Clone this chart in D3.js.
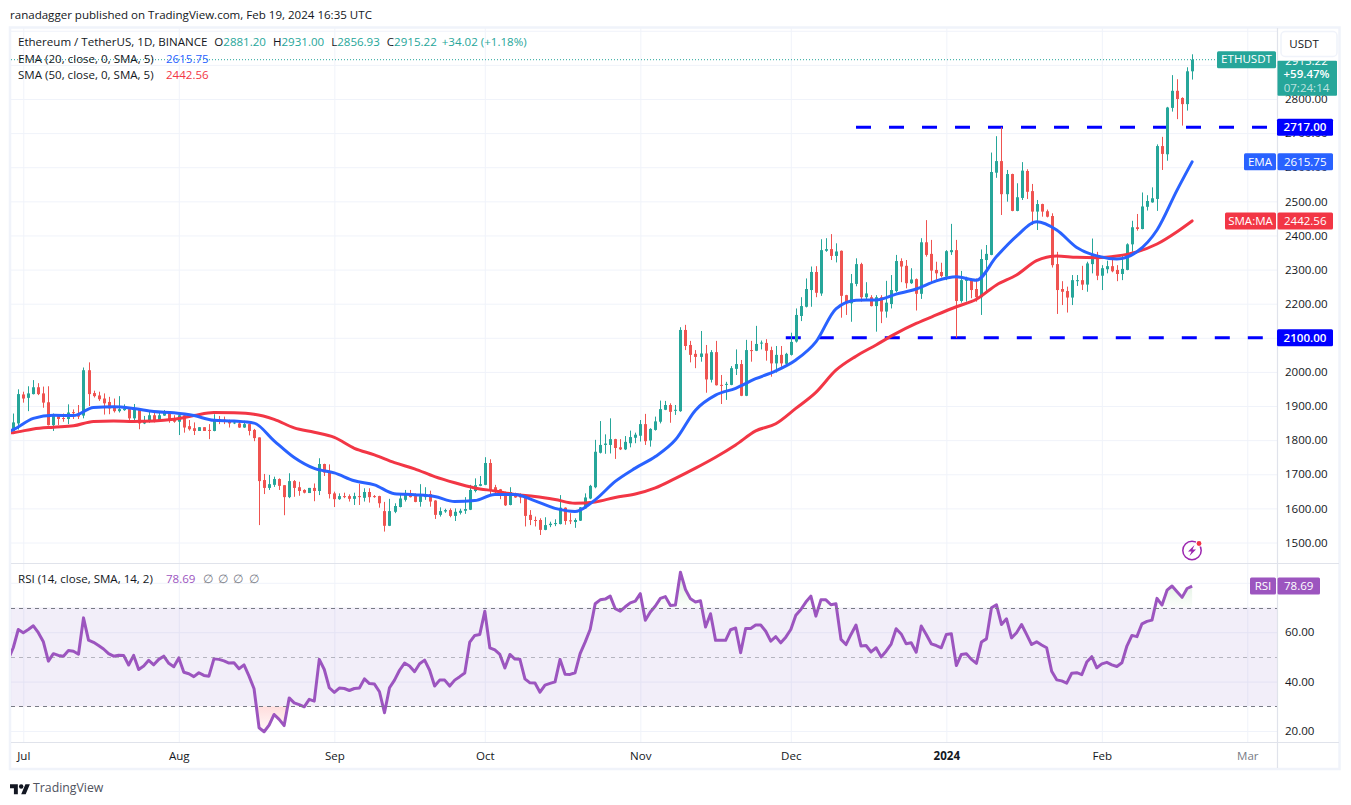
<!DOCTYPE html>
<html><head><meta charset="utf-8">
<script src="https://cdn.jsdelivr.net/npm/d3@7"></script>
<style>html,body{margin:0;padding:0;background:#fff}svg{display:block}text{font-family:"Open Sans",sans-serif;font-size:11.55px;fill:#131722}</style>
</head><body><svg id="c" width="1351" height="805"></svg>
<script>
const opens=[1827,1849,1934,1924,1935,1955,1937,1911,1844,1872,1865,1862,1882,1878,1872,2005,1938,1931,1922,1912,1898,1885,1888,1891,1864,1888,1849,1854,1873,1859,1872,1883,1862,1854,1873,1841,1835,1827,1838,1830,1827,1861,1860,1856,1849,1849,1837,1847,1830,1808,1683,1660,1669,1686,1668,1633,1680,1662,1654,1645,1660,1651,1730,1707,1644,
1627,1636,1636,1628,1636,1631,1648,1636,1636,1592,1549,1590,1604,1625,1644,1636,1619,1633,1642,1623,1581,1591,1595,1578,1587,1593,1596,1651,1666,1669,1733,1662,1656,1648,1610,1644,1641,1638,1581,1566,1566,1537,1551,1554,1554,1602,1565,1560,1564,1600,1629,1662,1763,1786,1786,1803,1779,1773,1791,1807,1813,1847,1799,1830,1854,1889,1903,1887,
1885,2123,2079,2053,2044,2054,1977,2058,1962,1962,1962,2009,2023,1930,2064,2062,2083,2085,2064,2025,2050,2024,2050,2089,2164,2191,2240,2293,2230,2355,2360,2340,2355,2225,2201,2258,2316,2219,2219,2193,2219,2177,2199,2237,2325,2311,2260,2272,2229,2380,2346,2299,2293,2279,2351,
2357,2208,2267,2271,2243,2219,2328,2343,2584,2618,2521,2580,2472,2510,2589,2530,2470,2492,2471,2457,2316,2243,2237,2218,2266,2269,2256,2316,2343,2282,2301,2310,2299,2287,2299,2374,2424,2419,2484,2497,2507,2662,2638,2774,2824,2803,2785,2881.2];
const closes=[1852,1935,1922,1937,1955,1935,1910,1844,1873,1862,1862,1881,1879,1869,2005,1935,1929,1920,1908,1893,1885,1891,1893,1864,1891,1849,1859,1873,1857,1873,1883,1857,1854,1873,1837,1832,1827,1838,1827,1828,1861,1857,1856,1849,1852,1837,1847,1827,1806,1680,1660,1671,1686,1666,1633,1680,1660,1651,1646,1660,1651,1730,1705,1642,1627,
1636,1633,1628,1636,1635,1648,1633,1635,1615,1549,1592,1607,1629,1644,1633,1619,1636,1642,1620,1581,1592,1595,1578,1590,1593,1598,1654,1668,1671,1733,1652,1652,1639,1609,1648,1632,1632,1578,1566,1564,1537,1551,1555,1557,1602,1563,1562,1566,1603,1632,1666,1766,1786,1790,1803,1777,1773,1795,1809,1816,1847,1797,1833,1855,1891,1903,1883,1889,
2123,2076,2050,2044,2054,1978,2058,1961,1960,1965,2011,2023,1930,2064,2062,2082,2086,2062,2025,2050,2025,2053,2088,2167,2193,2243,2293,2232,2357,2360,2340,2353,2223,2201,2260,2316,2219,2230,2193,2219,2177,2203,2240,2325,2309,2260,2271,2229,2380,2343,2297,2289,2281,2354,2357,
2208,2269,2274,2240,2219,2331,2346,2586,2618,2521,2580,2472,2512,2590,2528,2470,2492,2470,2455,2313,2240,2235,2218,2269,2269,2256,2318,2346,2282,2304,2310,2295,2287,2302,2374,2424,2419,2485,2501,2509,2662,2639,2775,2824,2800,2785,2881.2,2915.22];
const highs=[1878,1949,1942,1958,1976,1967,1957,1958,1878,1875,1878,1905,1890,1903,2013,2028,1945,1942,1937,1927,1922,1929,1905,1896,1906,1890,1871,1885,1885,1885,1888,1884,1873,1878,1878,1859,1852,1838,1838,1847,1876,1871,1869,1860,1856,1857,1857,1848,1833,1808,1701,1698,1693,1688,1668,1703,1683,1678,1656,1660,1673,1747,1731,1729,1649,
1644,1646,1641,1646,1672,1659,1659,1639,1637,1619,1628,1615,1644,1654,1654,1644,1671,1662,1652,1624,1603,1599,1600,1600,1599,1633,1669,1688,1695,1750,1744,1669,1657,1649,1662,1646,1644,1641,1595,1576,1571,1574,1561,1568,1639,1603,1586,1571,1604,1644,1669,1801,1856,1817,1864,1804,1803,1812,1828,1822,1859,1877,1835,1869,1916,1915,1908,1903,
2131,2138,2091,2064,2120,2079,2064,2091,1991,1971,2017,2066,2035,2094,2091,2135,2092,2096,2074,2076,2076,2056,2115,2186,2219,2274,2309,2310,2389,2392,2404,2377,2356,2226,2287,2333,2320,2263,2225,2225,2225,2267,2284,2343,2333,2328,2304,2274,2392,2445,2387,2323,2320,2357,2434,
2387,2296,2279,2274,2274,2359,2372,2643,2691,2717,2592,2581,2553,2615,2594,2551,2504,2493,2476,2465,2352,2266,2250,2284,2284,2311,2323,2391,2352,2313,2326,2331,2313,2343,2377,2443,2463,2526,2518,2541,2667,2689,2777,2870,2858,2805,2893,2931];
const lows=[1825,1831,1910,1885,1934,1932,1895,1843,1827,1844,1854,1847,1862,1862,1864,1900,1925,1915,1875,1876,1881,1881,1886,1854,1856,1832,1847,1851,1852,1854,1871,1851,1851,1815,1822,1828,1815,1827,1827,1803,1826,1847,1847,1837,1847,1836,1836,1814,1797,1551,1642,1654,1663,1654,1580,1630,1634,1637,1644,1645,1621,1639,1695,1629,1604,
1625,1630,1620,1610,1610,1620,1617,1631,1602,1532,1548,1586,1603,1620,1632,1618,1605,1625,1605,1569,1576,1587,1574,1563,1582,1584,1595,1647,1665,1668,1639,1639,1627,1607,1609,1631,1615,1547,1551,1547,1522,1536,1545,1548,1553,1552,1554,1543,1563,1599,1627,1659,1761,1760,1761,1745,1771,1771,1779,1791,1796,1786,1781,1828,1849,1888,1851,1874,
1883,2064,2028,2011,2030,1939,1969,1960,1906,1918,1961,1991,1929,1929,2030,2061,2066,2033,1986,1998,2015,2020,2048,2086,2149,2189,2191,2219,2223,2352,2328,2321,2159,2167,2147,2251,2206,2211,2192,2118,2143,2159,2186,2233,2263,2245,2258,2180,2214,2338,2260,2270,2277,2269,2343,
2100,2203,2206,2216,2206,2167,2230,2342,2569,2460,2499,2471,2471,2504,2507,2431,2416,2455,2453,2306,2170,2196,2174,2196,2252,2240,2235,2289,2269,2240,2289,2292,2266,2269,2298,2352,2414,2418,2473,2496,2472,2592,2619,2763,2741,2722,2766,2856.93];
const lineDays=[-1,0,4,8,12,16,20,24,28,32,36,40,44,48,52,56,60,64,68,72,76,80,84,88,92,96,100,104,108,112,116,120,124,128,132,136,140,144,148,152,156,160,164,168,172,176,180,184,188,192,196,200,204,208,212,216,220,224,228,232,235];
const ema=[1825,1831,1864,1873,1872,1896,1898,1893,1884,1880,1872,1858,1856,1850,1798,1749,1717,1704,1681,1669,1643,1640,1635,1620,1623,1641,1641,1622,1600,1591,1625,1679,1718,1752,1801,1888,1932,1952,1980,2003,2035,2088,2185,2210,2211,2228,2243,2267,2279,2269,2338,2398,2440,2416,2365,2340,2331,2352,2416,2533,2615.75];
const sma=[1821,1822,1833,1838,1842,1855,1856,1855,1856,1861,1872,1881,1880,1876,1861,1836,1823,1808,1776,1757,1734,1716,1693,1675,1660,1651,1641,1635,1626,1615,1619,1632,1642,1660,1688,1718,1750,1786,1827,1848,1893,1940,2005,2046,2079,2113,2142,2167,2191,2213,2255,2284,2326,2340,2336,2335,2340,2352,2375,2411,2442.56];
const rsi=[49,53.7,61.1,59.8,61.1,62.6,59.8,56.1,48.3,51.3,50.6,50.3,52.6,52.3,51.1,65.8,56.8,55.9,54.6,53.2,51.3,50.3,50.7,50.6,46.7,50.6,44.9,46.3,48.6,46.8,49.0,50.3,47.4,46.0,49.6,43.8,43.2,42.0,43.6,42.5,42.2,49.2,49.0,48.4,47.5,47.6,45.2,46.8,42.2,37.1,21.3,19.7,22.4,26.7,24.7,22.2,33.4,31.4,30.7,29.8,32.8,32.1,49.0,44.9,37.5,35.6,37.4,37.2,36.4,37.2,37.4,41.1,39.2,39.0,35.9,27.4,37.5,40.6,44.6,47.5,46.3,44.0,47.2,48.7,44.6,38.2,40.6,40.6,38.2,
40.6,42.0,43.5,56.0,58.7,59.1,68.5,53.7,52.8,51.0,45.5,51.0,49.1,49.0,41.1,39.5,39.4,35.7,38.6,39.3,39.9,49.0,43.0,42.9,43.6,51.3,56.0,61.1,71.5,73.1,73.4,74.6,69.5,68.5,70.3,71.9,72.6,75.6,64.8,68.2,70.6,73.7,74.4,70.8,71.0,84.3,77.3,73.5,72.2,72.7,62.1,67.5,56.7,56.7,56.7,61.0,61.7,51.7,61.5,61.5,62.9,62.9,60.4,56.4,58.2,55.7,58.0,61.1,66.9,69.2,72.2,74.6,66.5,73.1,73.1,71.1,71.5,57.1,55.0,59.1,62.9,54.4,54.6,52.0,53.7,50.0,52.3,55.2,61.4,
59.3,55.3,55.7,51.9,62.5,59.1,55.3,54.6,53.7,59.1,59.4,46.5,51.0,51.3,49.0,47.4,56.0,57.3,69.9,71.1,63.1,65.4,57.7,59.8,63.1,59.1,55.0,56.1,54.8,53.7,44.2,40.7,40.3,39.4,43.4,43.6,42.8,47.9,50.1,45.6,47.2,47.8,46.8,46.1,47.6,54.4,58.7,58.2,63.4,64.4,64.9,73.7,71.0,77.0,78.7,76.4,74.1,77.7,78.69];
const priceTicks=[1500,1600,1700,1800,1900,2000,2100,2200,2300,2400,2500,2600,2700,2800,2900,3000];
const rsiTicks=[20,40,60,80];
const monthDates=["2023-07-01","2023-08-01","2023-09-01","2023-10-01","2023-11-01","2023-12-01","2024-01-01","2024-02-01","2024-03-01"];
const monthLabels=["Jul","Aug","Sep","Oct","Nov","Dec","2024","Feb","Mar"];
const levels=[{v:2717,x:"2023-12-14"},{v:2100,x:"2023-11-30"}];
const lastPrice=2915.22, emaLast=2615.75, smaLast=2442.56, rsiLast=78.69;
const firstDate=new Date(Date.UTC(2023,5,29));

const svg=d3.select("#c");
const L=11,R=1277,T=28,B=742,Pane=563.5;
const day=i=>d3.utcDay.offset(firstDate,i);
const x=d3.scaleUtc().domain([new Date(Date.UTC(2023,6,1)),new Date(Date.UTC(2024,2,1))]).range([23.3,1247.3]);
const yP=d3.scaleLinear().domain([1500,2800]).range([542.5,99]);
const yR=d3.scaleLinear().domain([20,70]).range([731,607.5]);
const fmt=d3.format(".2f");
const monthTicks=monthDates.map(d=>new Date(d+"T00:00:00Z"));
const defs=svg.append("defs");
defs.append("clipPath").attr("id","cp").append("rect").attr("x",L).attr("y",T).attr("width",R-L).attr("height",Pane-T);
defs.append("clipPath").attr("id","cr").append("rect").attr("x",L).attr("y",Pane).attr("width",R-L).attr("height",B-Pane);
defs.append("clipPath").attr("id","ob").append("rect").attr("x",L).attr("y",Pane).attr("width",R-L).attr("height",yR(70)-Pane);
defs.append("clipPath").attr("id","os").append("rect").attr("x",L).attr("y",yR(30)).attr("width",R-L).attr("height",B-yR(30));
const gg=defs.append("linearGradient").attr("id","gOb").attr("gradientUnits","userSpaceOnUse").attr("x1",0).attr("x2",0).attr("y1",yR(70)).attr("y2",yR(90));
gg.append("stop").attr("offset",0).attr("stop-color","#4caf50").attr("stop-opacity",0.02);
gg.append("stop").attr("offset",1).attr("stop-color","#4caf50").attr("stop-opacity",0.3);
const gr=defs.append("linearGradient").attr("id","gOs").attr("gradientUnits","userSpaceOnUse").attr("x1",0).attr("x2",0).attr("y1",yR(30)).attr("y2",yR(18));
gr.append("stop").attr("offset",0).attr("stop-color","#ff5252").attr("stop-opacity",0.2);
gr.append("stop").attr("offset",1).attr("stop-color","#ff5252").attr("stop-opacity",0);

// frame
svg.append("rect").attr("x",10).attr("y",27.5).attr("width",1329.5).attr("height",741.5).attr("fill","#fff").attr("stroke","#f0f3fa").attr("stroke-width",2.5);

// grids
const gridColor="#f0f3fa";
function grid(g){g.select(".domain").remove();g.selectAll("text").remove();g.selectAll("line").attr("stroke",gridColor);}
svg.append("g").attr("transform",`translate(${R},0)`).call(d3.axisLeft(yP).tickValues(priceTicks).tickSize(R-L).tickFormat("")).call(grid);
svg.append("g").attr("transform",`translate(${R},0)`).call(d3.axisLeft(yR).tickValues(rsiTicks).tickSize(R-L).tickFormat("")).call(grid);
svg.append("g").attr("transform",`translate(0,${B})`).call(d3.axisBottom(x).tickValues(monthTicks).tickSize(-(B-T)).tickFormat("")).call(grid);

// RSI band
svg.append("rect").attr("x",L).attr("width",R-L).attr("y",yR(70)).attr("height",yR(30)-yR(70)).attr("fill","#7e57c2").attr("fill-opacity",0.1);

// level lines
const lv=svg.append("g").attr("clip-path","url(#cp)");
levels.forEach(l=>{
  lv.append("line").attr("x1",x(new Date(l.x+"T00:00:00Z"))).attr("x2",R).attr("y1",yP(l.v)).attr("y2",yP(l.v)).attr("stroke","#0000ff").attr("stroke-width",3).attr("stroke-dasharray","15 18");
});
// last price dotted
svg.append("line").attr("x1",L).attr("x2",1218).attr("y1",yP(lastPrice)).attr("y2",yP(lastPrice)).attr("stroke","#26a69a").attr("stroke-dasharray","1 2");

// candles
const up="#26a69a",dn="#ef5350";
const cg=svg.append("g").attr("clip-path","url(#cp)");
const idx=d3.range(opens.length);
cg.selectAll("line.w").data(idx).join("line").attr("class","w").attr("x1",i=>Math.round(x(day(i)))+.5).attr("x2",i=>Math.round(x(day(i)))+.5).attr("y1",i=>yP(highs[i])).attr("y2",i=>yP(lows[i])).attr("stroke",i=>closes[i]>=opens[i]?up:dn);
cg.selectAll("rect.b").data(idx).join("rect").attr("class","b").attr("x",i=>Math.round(x(day(i)))-1).attr("width",3).attr("y",i=>yP(Math.max(opens[i],closes[i]))).attr("height",i=>Math.max(1,Math.abs(yP(opens[i])-yP(closes[i])))).attr("fill",i=>closes[i]>=opens[i]?up:dn);

// MAs
const maLine=d3.line().x((d,i)=>x(day(lineDays[i]))).y(d=>yP(d)).curve(d3.curveMonotoneX);
cg.append("path").attr("d",maLine(sma)).attr("fill","none").attr("stroke","#f23645").attr("stroke-width",3).attr("stroke-linejoin","round").attr("stroke-linecap","round");
cg.append("path").attr("d",maLine(ema)).attr("fill","none").attr("stroke","#2962ff").attr("stroke-width",3).attr("stroke-linejoin","round").attr("stroke-linecap","round");

// RSI
const rx=(d,i)=>x(day(i-1));
const rg=svg.append("g").attr("clip-path","url(#cr)");
rg.append("path").attr("clip-path","url(#ob)").attr("d",d3.area().x(rx).y0(yR(70)).y1(d=>yR(d))(rsi)).attr("fill","url(#gOb)");
rg.append("path").attr("clip-path","url(#os)").attr("d",d3.area().x(rx).y0(yR(30)).y1(d=>yR(d))(rsi)).attr("fill","url(#gOs)");
[[70,"#787b86",1],[50,"#787b86",0.5],[30,"#787b86",1]].forEach(([v,c,o])=>{
  svg.append("line").attr("x1",L).attr("x2",R).attr("y1",Math.round(yR(v))+.5).attr("y2",Math.round(yR(v))+.5).attr("stroke",c).attr("stroke-opacity",o).attr("stroke-dasharray","4 4");
});
rg.append("path").attr("d",d3.line().x(rx).y(d=>yR(d))(rsi)).attr("fill","none").attr("stroke","#9c55bf").attr("stroke-width",3).attr("stroke-linejoin","round");

// structural lines
const sep="#e0e3eb";
[[L,1339,Pane,Pane],[L,1339,B+.5,B+.5]].forEach(a=>svg.append("line").attr("x1",a[0]).attr("x2",a[1]).attr("y1",a[2]).attr("y2",a[3]).attr("stroke",sep).attr("stroke-width",1.2));
svg.append("line").attr("x1",R+.5).attr("x2",R+.5).attr("y1",T).attr("y2",768).attr("stroke",sep).attr("stroke-width",1.2);

// axes
const up1=-0.8;
function style(g){g.select(".domain").remove();g.selectAll("line").remove();g.selectAll("text").attr("x",8).attr("y",up1).attr("dy",null).attr("dominant-baseline","central").attr("fill","#131722");}
// ticks hidden behind the level and indicator tags stay out of the axis
const hidden=[2900,3000];
svg.append("g").attr("transform",`translate(${R},0)`).call(d3.axisRight(yP).tickValues(priceTicks.filter(v=>!hidden.includes(v))).tickSize(0).tickFormat(fmt)).call(style);
svg.append("g").attr("transform",`translate(${R},0)`).call(d3.axisRight(yR).tickValues(rsiTicks.filter(v=>v<80)).tickSize(0).tickFormat(fmt)).call(style);
const tg=svg.append("g").attr("transform",`translate(0,${B})`).call(d3.axisBottom(x).tickValues(monthTicks).tickSize(0).tickFormat((d,i)=>monthLabels[i]));
tg.select(".domain").remove();tg.selectAll("line").remove();
tg.selectAll("text").attr("y",13.6).attr("dy",null).attr("dominant-baseline","central").attr("text-anchor","middle").attr("fill","#131722")
  .each(function(d,i){const s=d3.select(this);if(monthLabels[i]==="2024")s.attr("font-weight",700);if(monthLabels[i]==="Mar")s.style("fill","#787b86");});

// helpers
function label(x0,x1,yc,fill,txt,bold){
  svg.append("rect").attr("x",x0).attr("y",yc-8.5).attr("width",x1-x0).attr("height",17).attr("rx",1.5).attr("fill",fill);
  const t=svg.append("text").attr("x",(x0+x1)/2).attr("y",yc+up1).attr("text-anchor","middle").attr("dominant-baseline","central").text(txt).style("fill","#fff");
  if(bold)t.attr("font-weight",600);
}
// right side tags
levels.forEach(l=>label(R,1333,yP(l.v),"#0000ff",fmt(l.v),true));
label(1244,1276,yP(emaLast),"#2962ff","EMA");label(R+.5,1333,yP(emaLast),"#2962ff",fmt(emaLast));
label(1225,1276,yP(smaLast),"#f23645","SMA:MA");label(R+.5,1333,yP(smaLast),"#f23645",fmt(smaLast));
label(1250,1276,yR(rsiLast),"#9c55bf","RSI");label(R+.5,1320,yR(rsiLast),"#9c55bf",fmt(rsiLast));
label(1217,1276,yP(lastPrice),"#26a69a","ETHUSDT");

// price block: the currency button above hides the upper half of its first line
svg.append("rect").attr("x",R+.5).attr("y",60.7).attr("width",59.5).attr("height",35).attr("rx",1).attr("fill","#26a69a");
defs.append("clipPath").attr("id","pb").append("rect").attr("x",R).attr("y",60.7).attr("width",60).attr("height",35);
svg.append("text").attr("clip-path","url(#pb)").attr("x",1306.5).attr("y",60).attr("text-anchor","middle").attr("dominant-baseline","central").text(fmt(lastPrice)).style("fill","#fff");
svg.append("text").attr("x",1306.5).attr("y",73.5).attr("text-anchor","middle").attr("dominant-baseline","central").attr("font-weight",600).text("+59.47%").style("fill","#fff");
svg.append("text").attr("x",1306.5).attr("y",87.3).attr("text-anchor","middle").attr("dominant-baseline","central").text("07:24:14").style("fill","#fff").style("fill-opacity",.7);
svg.append("rect").attr("x",1281).attr("y",31.5).attr("width",56).attr("height",25).attr("rx",4).attr("fill","#fff").attr("stroke","#f0f3fa").attr("stroke-width",1.5);
svg.append("text").attr("x",1304).attr("y",43.5).attr("text-anchor","middle").attr("dominant-baseline","central").text("USDT");

// header
svg.append("text").attr("x",10).attr("y",14.4).attr("dominant-baseline","central").text("ranadagger published on TradingView.com, Feb 19, 2024 16:35 UTC");
function legend(yc,parts){
  const t=svg.append("text").attr("x",18).attr("y",yc).attr("dominant-baseline","central");
  parts.forEach(p=>{const s=t.append("tspan").text(p[0]);if(p[1])s.style("fill",p[1]);if(p[2])s.attr("dx",p[2]);if(p[3])s.attr("x",p[3]);});
}
const g="#26a69a";
legend(41.4,[["Ethereum / TetherUS, 1D, BINANCE"],["O",null,7],["2881.20",g],["H",null,7],["2931.00",g],["L",null,7],["2856.93",g],["C",null,7],["2915.22",g],["+34.02 (+1.18%)",g,5]]);
legend(58.4,[["EMA (20, close, 0, SMA, 5)"],[fmt(emaLast),"#2962ff",0,166]]);
legend(74.4,[["SMA (50, close, 0, SMA, 5)"],[fmt(smaLast),"#f23645",0,166]]);
legend(577.9,[["RSI (14, close, SMA, 14, 2)"],[fmt(rsiLast),"#9c55bf",0,166]
,["∅","#787b86",0,203],["∅","#787b86",0,218],["∅","#787b86",0,233],["∅","#787b86",0,249]]);

// bolt icon
const ic=svg.append("g").attr("transform","translate(1192,550.5)");
ic.append("circle").attr("r",9.2).attr("fill","none").attr("stroke","#9c27b0").attr("stroke-width",1.5);
ic.append("path").attr("d","M2.5,-5.5 L-4,1 L-0.5,1 L-2.5,5.5 L4,-1 L0.5,-1 Z").attr("fill","#9c27b0");
ic.append("circle").attr("cx",7).attr("cy",-7).attr("r",3.3).attr("fill","#fff");
ic.append("circle").attr("cx",7).attr("cy",-7).attr("r",2.4).attr("fill","#f23645");

// logo
const lg=svg.append("g").attr("transform","translate(10,782) scale(.56)");
lg.append("path").attr("d","M14 22H7V11H0V4h14v18zM28 22h-8l7.5-18h8L28 22z").attr("fill","#131722");
lg.append("circle").attr("cx",20).attr("cy",8).attr("r",4).attr("fill","#131722");
svg.append("text").attr("x",33).attr("y",787.5).attr("dominant-baseline","central").style("font-size","12.3px").style("fill","#50535e").text("TradingView");
</script></body></html>
